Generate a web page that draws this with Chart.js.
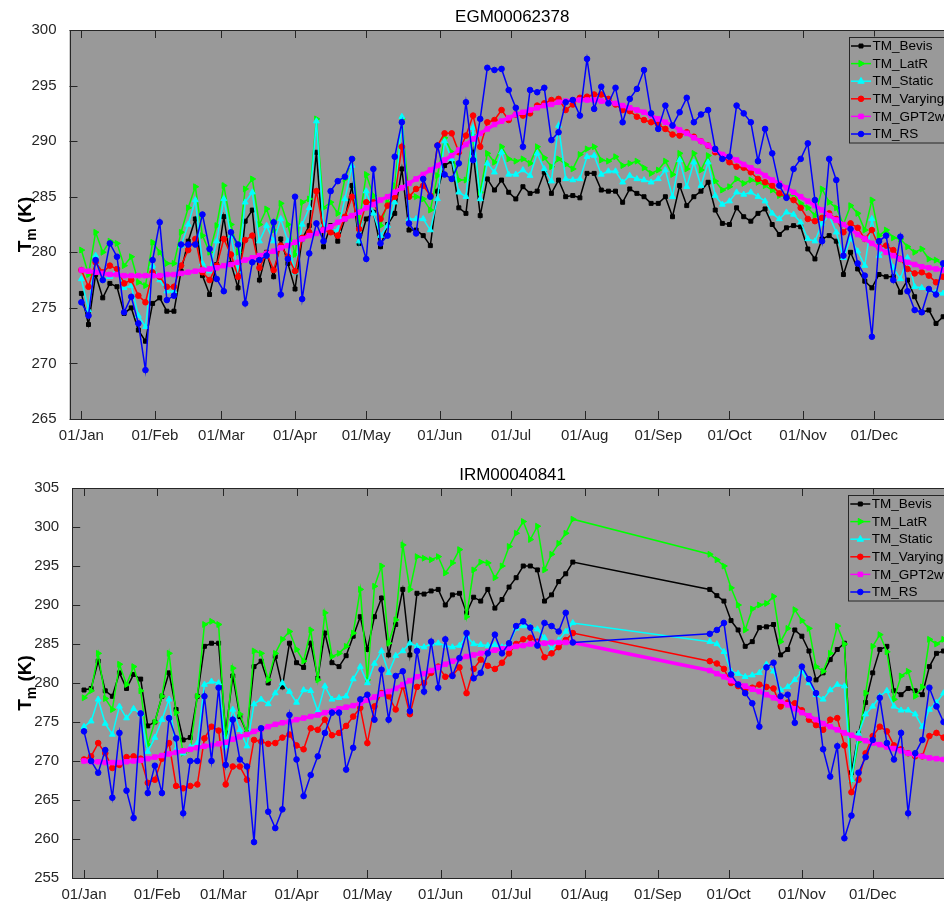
<!DOCTYPE html>
<html lang="en">
<head>
<meta charset="UTF-8">
<title>Tm comparison</title>
<style>
  body { margin: 0; background: #fff; }
  #wrap { position: relative; width: 944px; height: 901px; overflow: hidden; }
  canvas { position: absolute; left: 0; }
  #topChart { top: 0; width: 975px; height: 450px; }
  #botChart { top: 450px; width: 975px; height: 451px; }
</style>
<script src="https://cdn.jsdelivr.net/npm/chart.js@4/dist/chart.umd.min.js"></script>
</head>
<body>
<div id="wrap">
  <canvas id="topChart" width="975" height="450"></canvas>
  <canvas id="botChart" width="975" height="451"></canvas>
</div>
<script>
// month ticks (day of year)
const MONTH_DAYS = [0, 31, 59, 90, 120, 151, 181, 212, 243, 273, 304, 334];
const MONTH_LABELS = ['01/Jan', '01/Feb', '01/Mar', '01/Apr', '01/May', '01/Jun',
                      '01/Jul', '01/Aug', '01/Sep', '01/Oct', '01/Nov', '01/Dec'];

// ---- EGM00062378 ----
const TOP_DAYS = [0,3,6,9,12,15,18,21,24,27,30,33,36,39,42,45,48,51,54,57,60,63,66,69,72,75,78,81,84,87,
  90,93,96,99,102,105,108,111,114,117,120,123,126,129,132,135,138,141,144,147,150,153,156,159,162,165,168,171,174,177,180,
  183,186,189,192,195,198,201,204,207,210,213,216,219,222,225,228,231,234,237,240,243,246,249,252,255,258,261,264,267,270,273,276,
  279,282,285,288,291,294,297,300,303,306,309,312,315,318,321,324,327,330,333,336,339,342,345,348,351,354,357,360,363];

const TOP_BEVIS = [276.3,273.5,278.0,275.9,277.2,276.9,274.5,275.0,273.0,272.0,275.4,275.9,274.7,274.7,278.3,281.0,283.0,277.9,276.2,278.9,283.2,279.0,276.8,282.8,283.8,277.5,280.0,277.8,281.2,279.0,
  276.7,281.2,282.4,289.0,280.5,282.4,281.0,283.0,286.0,280.8,283.0,283.6,280.5,282.5,283.5,287.5,282.0,282.0,281.5,280.6,285.5,287.8,288.2,284.0,283.5,289.0,283.3,286.6,285.6,286.5,285.4,
  284.8,285.9,285.3,285.5,287.2,285.3,286.5,285.0,285.1,284.9,287.1,287.1,285.6,285.5,285.5,284.5,285.7,285.3,285.0,284.4,284.4,285.0,283.2,286.0,284.2,285.0,285.5,286.3,283.8,282.6,282.5,284.0,
  283.2,282.8,283.5,283.9,282.5,281.6,282.2,282.4,282.3,280.3,279.4,281.2,281.5,281.0,278.0,280.0,278.5,277.4,276.8,278.0,277.8,277.8,276.4,277.5,276.0,274.6,274.8,273.6,274.2];

const TOP_LATR = [280.2,278.0,281.8,280.0,281.0,280.8,278.8,279.6,277.3,277.0,280.9,280.0,279.0,279.0,281.8,284.0,285.9,281.5,280.0,282.4,286.0,282.5,280.0,285.7,286.6,282.5,283.9,282.0,284.4,282.5,
  279.8,284.5,284.8,292.0,284.0,284.5,283.5,286.6,288.4,282.7,287.0,285.1,282.4,284.5,286.0,292.0,285.0,285.0,284.8,283.8,286.9,290.3,289.0,286.5,286.5,290.5,285.4,288.9,288.1,289.5,288.4,
  288.2,288.4,288.0,289.5,288.5,287.7,288.4,287.9,287.5,288.8,289.3,289.5,288.3,288.2,288.6,287.8,288.0,288.2,287.6,287.1,287.4,288.2,287.0,288.9,287.5,288.9,287.4,288.7,286.4,285.6,285.9,286.6,
  286.2,286.5,286.3,286.0,285.6,285.1,285.0,285.3,284.4,284.0,283.3,285.7,284.5,284.0,282.5,284.2,283.5,282.0,284.7,281.5,282.0,281.3,281.2,280.5,280.0,280.3,279.4,279.3,278.9];

const TOP_STATIC = [277.6,274.8,279.7,277.5,277.8,278.5,276.8,277.0,274.3,273.3,278.8,277.5,276.5,276.5,280.6,282.5,284.7,279.0,278.3,281.0,284.8,281.5,278.3,284.5,285.4,281.0,282.4,281.0,283.0,281.0,
  278.2,282.5,284.0,291.8,282.5,282.0,282.0,284.8,287.8,281.0,285.5,283.5,281.5,282.4,284.5,292.2,283.0,283.0,283.0,282.0,284.8,290.0,288.4,285.4,285.0,291.2,284.8,288.0,287.2,289.0,287.0,
  287.0,287.4,286.9,288.9,287.5,286.4,291.4,286.6,286.5,286.6,288.6,288.7,287.0,287.3,287.3,286.3,286.9,286.6,286.5,286.3,286.6,287.4,285.0,288.3,285.9,288.1,286.0,288.1,285.1,284.3,284.6,285.4,
  285.2,285.4,285.0,284.6,283.5,283.0,283.6,283.4,282.7,281.2,281.0,282.6,283.3,281.8,279.5,281.2,280.1,278.8,283.0,279.7,280.5,278.6,277.6,279.5,276.9,276.8,276.6,276.4,276.3];

const TOP_VARYING = [278.4,276.9,279.1,278.2,278.8,278.5,277.2,277.5,276.1,275.5,278.2,277.8,276.9,276.9,278.8,280.2,281.2,278.2,277.5,278.8,281.2,279.8,277.8,281.1,281.5,278.6,279.9,278.4,280.6,279.6,
  278.3,281.3,281.8,285.5,282.0,281.8,281.5,283.2,285.0,282.1,284.5,284.5,283.0,284.2,285.0,289.5,285.0,285.7,286.0,285.1,289.6,290.7,290.7,289.0,290.5,292.3,289.5,291.7,291.9,292.8,291.9,
  292.4,292.3,292.5,293.2,293.4,293.7,293.8,292.8,293.3,293.9,294.0,294.2,294.2,293.8,293.3,292.8,292.7,292.2,291.9,291.7,291.5,291.1,290.6,290.5,290.8,290.4,290.0,289.6,289.0,288.6,288.1,287.7,
  287.6,287.2,286.6,286.3,286.0,285.3,285.0,284.7,284.0,283.0,282.8,283.1,283.5,283.0,281.8,282.6,282.2,281.2,282.0,280.5,280.6,280.2,279.4,278.5,278.1,278.2,277.9,277.3,277.8];

const TOP_GPT2W = [278.4,278.3,278.2,278.1,278.0,278.0,277.9,277.9,277.9,277.9,277.9,277.9,278.0,278.0,278.1,278.2,278.3,278.4,278.5,278.6,278.8,278.9,279.1,279.3,279.5,279.7,279.9,280.1,280.4,280.6,
  280.9,281.2,281.5,281.7,282.0,282.3,282.7,283.0,283.3,283.6,284.0,284.3,284.7,285.0,285.4,285.8,286.2,286.6,287.0,287.4,287.8,288.3,288.7,289.2,289.7,290.2,290.7,291.1,291.5,291.8,292.1,
  292.4,292.6,292.8,293.0,293.2,293.3,293.5,293.6,293.7,293.7,293.7,293.7,293.6,293.5,293.4,293.2,293.0,292.8,292.6,292.3,292.0,291.7,291.4,291.0,290.7,290.3,290.0,289.6,289.2,288.8,288.6,288.3,
  287.9,287.6,287.3,286.9,286.5,286.2,285.8,285.4,285.0,284.6,284.2,283.8,283.3,282.9,282.5,282.1,281.6,281.2,280.8,280.4,280.0,279.7,279.4,279.1,278.9,278.7,278.6,278.5,278.4];

const TOP_RS = [275.5,274.3,279.3,277.5,280.8,279.6,274.6,276.0,273.6,269.4,279.3,282.7,275.7,276.1,280.7,280.7,280.7,283.4,280.3,277.6,276.5,281.8,280.7,275.4,279.1,279.3,279.7,282.7,276.2,279.4,
  285.0,275.8,279.9,282.6,281.0,285.5,286.4,286.8,288.4,281.5,279.4,287.5,280.8,281.5,288.6,291.7,282.6,281.7,286.6,285.0,289.6,287.0,286.6,288.0,293.5,288.3,292.0,296.6,296.4,296.5,294.6,
  293.0,289.5,294.6,294.4,294.8,290.1,290.8,293.5,293.7,292.3,297.4,292.9,294.9,293.4,294.8,291.7,293.8,294.7,296.4,292.5,291.1,293.2,291.4,292.6,293.9,291.7,292.4,292.8,289.3,288.4,288.6,293.2,
  292.5,291.7,288.2,291.1,288.9,286.0,284.9,287.5,288.4,289.8,284.7,281.0,288.4,286.5,279.7,282.1,279.0,277.9,272.4,281.0,281.5,277.5,281.4,276.5,274.8,274.6,276.7,276.2,279.0];

// ---- IRM00040841 (no data between late Jul and late Sep) ----
const BOT_DAYS = [0,3,6,9,12,15,18,21,24,27,30,33,36,39,42,45,48,51,54,57,60,63,66,69,72,75,78,81,84,87,
  90,93,96,99,102,105,108,111,114,117,120,123,126,129,132,135,138,141,144,147,150,153,156,159,162,165,168,171,174,177,180,
  183,186,189,192,195,198,201,204,207,
  265,268,271,274,277,280,283,286,289,292,295,298,301,304,307,310,313,316,319,322,325,328,331,334,337,340,343,346,349,352,355,358,361,364];

const BOT_BEVIS = [279.1,279.3,282.8,279.0,278.3,281.3,279.3,281.1,280.5,274.5,275.0,278.3,281.3,276.6,272.7,273.0,278.3,284.7,285.1,285.1,273.6,280.9,275.7,273.6,282.1,282.8,280.0,283.4,279.5,285.1,
  282.6,282.0,285.1,280.6,286.4,282.6,282.1,283.5,286.0,288.5,284.3,288.5,290.9,283.6,287.5,292.0,283.6,291.5,291.4,291.8,292.0,290.0,291.3,291.5,289.0,291.0,290.5,292.0,289.6,290.7,292.3,
  293.5,295.0,295.0,294.5,290.5,291.3,293.0,294.0,295.5,
  292.0,291.2,290.5,288.0,286.8,284.7,285.3,287.1,287.2,287.5,283.6,284.3,286.8,286.0,284.1,280.4,281.3,283.0,284.3,285.1,268.5,273.5,277.5,281.3,284.3,284.7,279.0,278.5,279.3,279.0,278.5,282.1,283.8,284.1];

const BOT_LATR = [278.1,279.0,283.8,278.0,276.6,282.4,279.8,282.1,279.0,272.1,275.0,278.3,283.8,276.2,271.0,271.5,278.3,287.5,287.9,287.5,272.7,281.9,276.0,273.6,284.1,283.8,280.4,283.8,285.6,286.6,
  284.3,282.8,286.8,280.4,289.0,283.4,283.8,284.7,286.4,292.0,280.4,292.4,295.0,285.1,288.1,297.7,292.0,296.2,296.0,295.8,296.2,294.1,295.4,297.1,288.5,294.5,295.5,295.4,293.5,295.0,297.5,
  299.2,300.7,298.4,300.1,294.5,296.5,297.9,299.2,301.0,
  296.5,295.8,295.0,292.2,290.0,286.8,289.5,290.0,290.2,291.1,285.3,287.0,289.4,288.0,287.0,282.1,281.5,283.8,287.3,285.0,267.5,272.5,278.7,284.7,286.2,284.0,277.9,280.9,281.5,278.3,279.5,285.6,285.0,285.6];

const BOT_STATIC = [274.4,275.1,277.9,274.8,273.4,277.0,275.5,276.7,276.0,271.2,273.0,275.3,277.9,271.5,271.0,271.8,272.3,279.8,280.2,280.0,271.9,276.6,274.0,271.9,277.3,277.9,277.3,278.7,280.0,278.9,
  277.5,279.1,279.0,276.4,279.6,277.9,278.1,278.3,280.5,282.1,280.0,282.5,284.1,281.3,283.5,284.1,285.1,284.7,284.6,285.0,285.1,284.8,284.6,284.8,286.0,285.0,284.9,284.8,284.9,284.6,285.1,
  287.0,287.3,287.2,286.9,285.8,284.3,285.5,286.6,287.7,
  285.3,285.0,284.0,281.5,281.2,280.8,281.0,281.3,282.4,281.5,279.1,279.5,280.4,281.5,280.0,278.5,277.9,279.1,279.8,279.6,267.6,273.5,276.0,277.0,278.3,279.0,277.0,276.5,276.5,276.0,274.4,276.6,277.5,278.7];

const BOT_VARYING = [270.2,270.6,272.3,271.0,269.1,269.5,270.5,270.6,270.3,267.2,267.6,270.3,272.3,266.8,266.5,266.8,267.0,272.9,274.4,273.9,267.0,269.3,269.3,267.6,272.7,272.5,272.2,272.3,273.0,273.4,
  272.0,271.5,274.2,274.0,275.3,273.3,273.6,274.5,275.7,276.8,272.3,277.0,278.7,278.3,276.6,279.6,276.0,279.5,280.0,281.3,282.1,280.8,281.0,282.0,278.7,281.8,283.0,282.2,281.8,282.6,283.8,
  285.0,285.6,285.8,285.3,283.3,283.8,284.6,285.5,286.4,
  282.8,282.5,281.8,280.0,279.6,279.1,279.4,279.8,279.5,279.3,277.0,277.5,277.4,276.5,275.3,274.6,274.0,275.3,275.5,272.0,266.0,267.6,271.0,273.2,274.4,273.8,272.0,271.5,271.0,270.6,270.6,273.2,273.6,273.0];

const BOT_GPT2W = [270.0,269.9,269.9,269.8,269.8,269.8,269.9,270.0,270.1,270.3,270.5,270.7,270.9,271.1,271.3,271.5,271.7,271.9,272.0,272.2,272.4,272.8,273.1,273.4,273.8,274.1,274.4,274.7,274.9,275.0,
  275.3,275.5,275.7,275.9,276.2,276.4,276.7,276.9,277.1,277.4,277.8,278.2,278.6,278.9,279.3,279.8,280.3,280.8,281.2,281.6,282.0,282.4,282.8,283.1,283.4,283.6,283.8,284.0,284.2,284.4,284.5,
  284.7,284.8,285.0,285.1,285.1,285.2,285.2,285.2,285.2,
  281.6,281.2,280.8,280.3,279.9,279.6,279.2,278.9,278.5,278.1,277.7,277.2,276.7,276.2,275.8,275.3,274.8,274.4,274.0,273.6,273.3,272.9,272.6,272.3,272.1,271.8,271.6,271.3,271.0,270.8,270.6,270.4,270.3,270.2];

const BOT_RS = [273.8,270.0,268.5,271.4,265.3,273.6,266.2,262.7,276.1,265.9,269.4,265.9,275.5,272.9,263.3,270.0,270.0,278.3,270.0,279.4,269.5,275.3,270.2,269.3,259.6,274.2,263.5,261.4,263.8,275.9,
  270.2,265.5,268.2,270.6,273.6,276.2,276.2,268.9,271.7,277.9,278.5,275.3,281.7,275.3,280.9,281.5,276.4,284.1,278.9,285.3,279.4,285.6,280.9,283.2,286.4,280.6,281.3,283.8,286.2,283.8,285.1,
  287.3,287.9,287.1,284.8,287.7,287.3,286.6,289.0,285.2,
  286.3,286.8,287.7,281.1,279.8,278.7,277.4,274.4,282.0,282.6,278.3,278.5,274.9,282.1,280.5,278.7,271.5,268.0,271.9,260.1,263.0,268.5,270.5,272.7,278.1,272.3,270.2,273.6,263.3,271.0,272.7,279.4,277.0,275.0];

const FONT = 'Liberation Sans, Arial, Helvetica, sans-serif';
const AXIS_COLOR = '#262626';
const PLOT_BG = '#999999';

function pts(days, vals) {
  return days.map((d, i) => ({ x: d, y: vals[i] }));
}

function buildDatasets(days, bevis, latr, stat, varying, gpt, rs) {
  const line = (label, vals, color, style, r, extra) => Object.assign({
    label: label,
    data: pts(days, vals),
    borderColor: color,
    backgroundColor: color,
    pointBackgroundColor: color,
    pointBorderColor: color,
    pointStyle: style,
    pointRadius: r,
    pointHoverRadius: r,
    pointBorderWidth: 1,
    borderWidth: 1.5
  }, extra);
  return [
    line('TM_Bevis', bevis, '#000000', 'rect', 2.8, { order: 6 }),
    line('TM_LatR', latr, '#00ff00', 'triangle', 3.4, { order: 5, pointRotation: 90 }),
    line('TM_Static', stat, '#00ffff', 'triangle', 3.4, { order: 4 }),
    line('TM_Varying', varying, '#ff0000', 'circle', 2.8, { order: 3 }),
    line('TM_GPT2w', gpt, '#ff00ff', 'rect', 3.2, { order: 2, borderWidth: 3.5 }),
    line('TM_RS', rs, '#0000ff', 'circle', 2.8, { order: 1 })
  ];
}

// own marker drawing for the legend samples
function marker(ctx, style, rot, r, x, y) {
  ctx.save();
  ctx.translate(x, y);
  ctx.rotate((rot || 0) * Math.PI / 180);
  ctx.beginPath();
  if (style === 'rect') {
    const s = r * Math.SQRT1_2;
    ctx.rect(-s, -s, 2 * s, 2 * s);
  } else if (style === 'triangle') {
    ctx.moveTo(0, -r * 1.1);
    ctx.lineTo(r * 0.95, r * 0.6);
    ctx.lineTo(-r * 0.95, r * 0.6);
    ctx.closePath();
  } else {
    ctx.arc(0, 0, r, 0, Math.PI * 2);
  }
  ctx.fill();
  ctx.stroke();
  ctx.restore();
}

const framePlugin = {
  id: 'frame',
  beforeDatasetsDraw(chart) {
    const { ctx, chartArea: a } = chart;
    ctx.save();
    ctx.fillStyle = PLOT_BG;
    ctx.fillRect(a.left, a.top, a.right - a.left, a.bottom - a.top);
    ctx.restore();
  },
  afterDatasetsDraw(chart) {
    const { ctx, chartArea: a, scales } = chart;
    const tl = 8;
    ctx.save();
    ctx.strokeStyle = AXIS_COLOR;
    ctx.lineWidth = 1;
    ctx.beginPath();
    scales.x.ticks.forEach(t => {
      const px = Math.round(scales.x.getPixelForValue(t.value)) + 0.5;
      ctx.moveTo(px, a.bottom); ctx.lineTo(px, a.bottom - tl);
      ctx.moveTo(px, a.top); ctx.lineTo(px, a.top + tl);
    });
    scales.y.ticks.forEach(t => {
      const py = Math.round(scales.y.getPixelForValue(t.value)) + 0.5;
      ctx.moveTo(a.left, py); ctx.lineTo(a.left + tl, py);
      ctx.moveTo(a.right, py); ctx.lineTo(a.right - tl, py);
    });
    ctx.stroke();
    ctx.strokeRect(Math.round(a.left) + 0.5, Math.round(a.top) + 0.5,
                   Math.round(a.right - a.left), Math.round(a.bottom - a.top));
    ctx.restore();
  },
  afterDraw(chart, args, opts) {
    const { ctx, chartArea: a } = chart;
    ctx.save();
    // title
    ctx.fillStyle = '#000';
    ctx.font = '17px ' + FONT;
    ctx.textAlign = 'center';
    ctx.textBaseline = 'middle';
    ctx.fillText(opts.title, (a.left + a.right) / 2, a.top - 12.5);

    // y label: T_m (K)
    const big = 'bold 19px ' + FONT, small = 'bold 14px ' + FONT;
    ctx.font = big;
    const wT = ctx.measureText('T').width;
    const wK = ctx.measureText(' (K)').width;
    ctx.font = small;
    const wm = ctx.measureText('m').width;
    const total = wT + wm + wK;
    ctx.translate(31, (a.top + a.bottom) / 2);
    ctx.rotate(-Math.PI / 2);
    ctx.textAlign = 'left';
    ctx.textBaseline = 'alphabetic';
    ctx.fillStyle = '#000';
    let x = -total / 2;
    ctx.font = big; ctx.fillText('T', x, 0); x += wT;
    ctx.font = small; ctx.fillText('m', x, 5); x += wm;
    ctx.font = big; ctx.fillText(' (K)', x, 0);
    ctx.restore();

    // legend box, top right inside the axes
    ctx.save();
    const lx = opts.legendX, ly = a.top + 6.5, lw = 112, lh = 105.5;
    ctx.fillStyle = PLOT_BG;
    ctx.fillRect(lx, ly, lw, lh);
    ctx.strokeStyle = AXIS_COLOR;
    ctx.lineWidth = 1;
    ctx.strokeRect(Math.round(lx) + 0.5, Math.round(ly) + 0.5, lw, lh);
    ctx.font = '13.5px ' + FONT;
    ctx.textAlign = 'left';
    ctx.textBaseline = 'middle';
    chart.data.datasets.forEach((ds, i) => {
      const cy = ly + 9.5 + i * 17.6;
      ctx.strokeStyle = ds.borderColor;
      ctx.fillStyle = ds.borderColor;
      ctx.lineWidth = 1.5;
      ctx.beginPath();
      ctx.moveTo(lx + 2, cy); ctx.lineTo(lx + 22, cy);
      ctx.stroke();
      ctx.lineWidth = 1;
      marker(ctx, ds.pointStyle, ds.pointRotation, ds.pointRadius, lx + 12, cy);
      ctx.fillStyle = '#000';
      ctx.fillText(ds.label, lx + 23.5, cy + 0.5);
    });
    ctx.restore();
  }
};

function makeChart(canvasId, title, datasets, yMin, yMax, yAxisWidth, padTop, padRight, xAxisHeight, legendX) {
  return new Chart(document.getElementById(canvasId), {
    type: 'line',
    data: { datasets: datasets },
    options: {
      responsive: false,
      animation: false,
      devicePixelRatio: 1,
      layout: { padding: { top: padTop, right: padRight, bottom: 0, left: 0 } },
      elements: { line: { tension: 0 } },
      plugins: {
        legend: { display: false },
        tooltip: { enabled: false },
        frame: { title: title, legendX: legendX }
      },
      scales: {
        x: {
          type: 'linear',
          min: -5,
          max: 368,
          grid: { display: false },
          border: { display: false },
          afterBuildTicks: s => { s.ticks = MONTH_DAYS.map(v => ({ value: v })); },
          afterFit: s => { s.height = xAxisHeight; },
          ticks: {
            autoSkip: false,
            maxRotation: 0,
            minRotation: 0,
            padding: 0,
            color: AXIS_COLOR,
            font: { family: FONT, size: 15 },
            callback: (v, i) => MONTH_LABELS[i]
          }
        },
        y: {
          min: yMin,
          max: yMax,
          grid: { display: false },
          border: { display: false },
          afterFit: s => { s.width = yAxisWidth; },
          ticks: {
            stepSize: 5,
            padding: 5,
            color: AXIS_COLOR,
            font: { family: FONT, size: 15 }
          }
        }
      }
    },
    plugins: [framePlugin]
  });
}

makeChart('topChart', 'EGM00062378',
  buildDatasets(TOP_DAYS, TOP_BEVIS, TOP_LATR, TOP_STATIC, TOP_VARYING, TOP_GPT2W, TOP_RS),
  265, 300, 69.5, 30, 20, 31, 849);

makeChart('botChart', 'IRM00040841',
  buildDatasets(BOT_DAYS, BOT_BEVIS, BOT_LATR, BOT_STATIC, BOT_VARYING, BOT_GPT2W, BOT_RS),
  255, 305, 72.2, 38, 22, 23, 848.3);
</script>
</body>
</html>
